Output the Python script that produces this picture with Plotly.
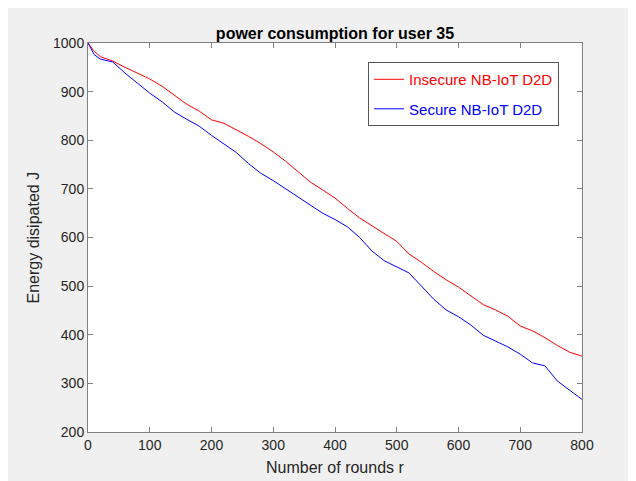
import plotly.graph_objects as go

rounds = [0, 10, 20, 40, 60, 80, 100, 120, 140, 160, 180, 200, 220, 240, 260, 280, 300,
          320, 340, 360, 380, 400, 420, 440, 460, 480, 500, 520, 540, 560, 580, 600,
          620, 640, 660, 680, 700, 720, 740, 760, 780, 800]

insecure = [1000, 983, 972, 963, 950, 938, 926, 911, 892, 874, 860, 842, 835, 822, 808, 793, 776,
            757, 735, 714, 698, 681, 660, 640, 624, 608, 592, 566, 549, 530, 513, 498,
            480, 462, 451, 438, 418, 408, 394, 378, 364, 356]

secure = [1000, 976, 967, 961, 938, 918, 897, 879, 858, 843, 829, 810, 792, 775, 752, 732, 717,
          700, 684, 666, 650, 637, 622, 600, 572, 552, 540, 527, 500, 473, 451, 437,
          420, 399, 387, 375, 360, 342, 336, 305, 286, 267]

x_ticks = [0, 100, 200, 300, 400, 500, 600, 700, 800]
y_ticks = [200, 300, 400, 500, 600, 700, 800, 900, 1000]

fig = go.Figure()
fig.add_trace(go.Scatter(x=rounds, y=insecure, mode="lines", legendgroup="a",
                         name='<span style="color:#ff0000">Insecure NB-IoT D2D</span>',
                         line=dict(color="#ff0000", width=1)))
fig.add_trace(go.Scatter(x=rounds, y=secure, mode="lines", legendgroup="b",
                         name='<span style="color:#0000ff">Secure NB-IoT D2D</span>',
                         line=dict(color="#0000ff", width=1)))

axis_common = dict(showgrid=False, zeroline=False, showline=True, linecolor="#808080",
                   linewidth=1, mirror="ticks", ticks="inside", ticklen=5,
                   tickcolor="#808080", automargin=False,
                   tickfont=dict(size=14, color="#262626"))

W, H = 636, 481
L, T, PW, PH = 80, 35, 494, 389

fig.update_layout(
    width=W, height=H,
    margin=dict(l=L, r=W - L - PW, t=T, b=H - T - PH),
    paper_bgcolor="#f0f0f0", plot_bgcolor="#ffffff",
    font=dict(family="Arial, Liberation Sans, sans-serif", color="#262626"),
    title=dict(text="<b>power consumption for user 35</b>", x=0.5, xref="paper",
               xanchor="center", y=1 - 25 / H, yanchor="middle",
               font=dict(size=16, color="#000000")),
    xaxis=dict(range=[0, 800], tickvals=x_ticks, **axis_common),
    yaxis=dict(range=[200, 1000], tickvals=y_ticks, **axis_common),
    legend=dict(x=0.567, y=0.951, xanchor="left", yanchor="top",
                bgcolor="#ffffff", bordercolor="#555555", borderwidth=1,
                font=dict(size=15), itemwidth=30, tracegroupgap=7),
    showlegend=True,
    annotations=[
        dict(text="Number of rounds r", xref="paper", yref="paper", x=0.5,
             y=-(459 - T - PH) / PH, xanchor="center", yanchor="middle",
             showarrow=False, font=dict(size=16, color="#262626")),
        dict(text="Energy disipated J", xref="paper", yref="paper",
             x=-(L - 25) / PW, y=0.5, xanchor="center", yanchor="middle",
             textangle=-90, showarrow=False, font=dict(size=16, color="#262626")),
    ],
)

fig.write_html("out.html")
